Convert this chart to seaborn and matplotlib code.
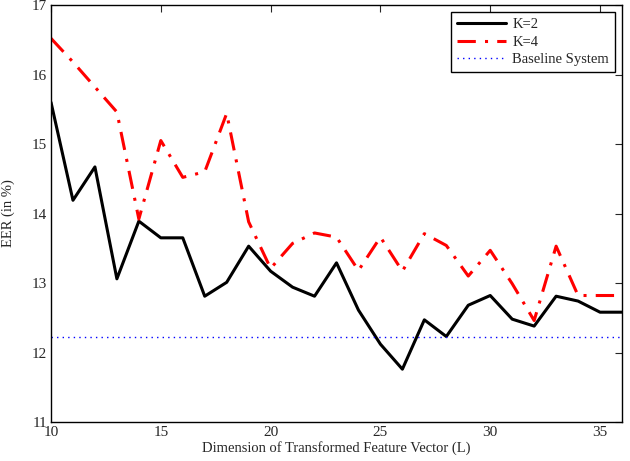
import matplotlib
matplotlib.use("Agg")
import matplotlib.pyplot as plt
import seaborn as sns
import pandas as pd

dims = list(range(10, 37))
eer_k2 = [15.60, 14.19, 14.67, 13.06, 13.89, 13.65, 13.65, 12.81, 13.01, 13.53,
          13.17, 12.94, 12.81, 13.29, 12.61, 12.12, 11.76, 12.47, 12.23, 12.68,
          12.82, 12.48, 12.38, 12.81, 12.74, 12.58, 12.58]
eer_k4 = [16.52, 16.18, 15.82, 15.46, 13.92, 15.05, 14.52, 14.60, 15.44, 13.88,
          13.21, 13.57, 13.72, 13.66, 13.18, 13.66, 13.17, 13.71, 13.54, 13.10,
          13.47, 12.99, 12.46, 13.53, 12.82, 12.82, 12.82]
baseline_x = [10, 36]
baseline_eer = 12.23
labels = ["K=2", "K=4", "Baseline System"]

sns.set_style("white")
plt.rcParams['font.family'] = ['Liberation Serif', 'DejaVu Serif']

fig = plt.figure(figsize=(6.3, 4.61), dpi=100)
ax = fig.add_axes([51/630, 1 - 422/461, (622-51)/630, (422-5)/461])

df = pd.DataFrame({"L": dims, "K2": eer_k2, "K4": eer_k4})
sns.lineplot(data=df, x="L", y="K2", ax=ax, color="black", linewidth=2.2, label=labels[0])
sns.lineplot(data=df, x="L", y="K4", ax=ax, color="red", linewidth=2.2,
             linestyle=(0, (6, 3, 1, 3)), label=labels[1])
sns.lineplot(x=baseline_x, y=[baseline_eer, baseline_eer], ax=ax, color="blue",
             linewidth=1.0, linestyle=(0, (1, 3)), label=labels[2])

ax.set_xlim(10, 36)
ax.set_ylim(11, 17)
ax.set_xticks([10, 15, 20, 25, 30, 35])
ax.set_yticks([11, 12, 13, 14, 15, 16, 17])
ax.tick_params(direction="in", top=True, right=True, labelsize=11, length=5, width=0.8, pad=3)
for s in ax.spines.values():
    s.set_visible(True)
    s.set_color("black")
    s.set_linewidth(1.0)
ax.set_xlabel("Dimension of Transformed Feature Vector (L)", fontsize=10.5, labelpad=1)
ax.set_ylabel("EER (in %)", fontsize=10.5, labelpad=12)

leg = ax.legend(loc="upper right", fontsize=10.5, frameon=True, fancybox=False,
                edgecolor="black", framealpha=1, borderaxespad=0.5,
                handlelength=3.4, labelspacing=0.3, borderpad=0.4, handletextpad=0.4)
leg.get_frame().set_linewidth(1.0)

fig.savefig("out.png", dpi=100)
